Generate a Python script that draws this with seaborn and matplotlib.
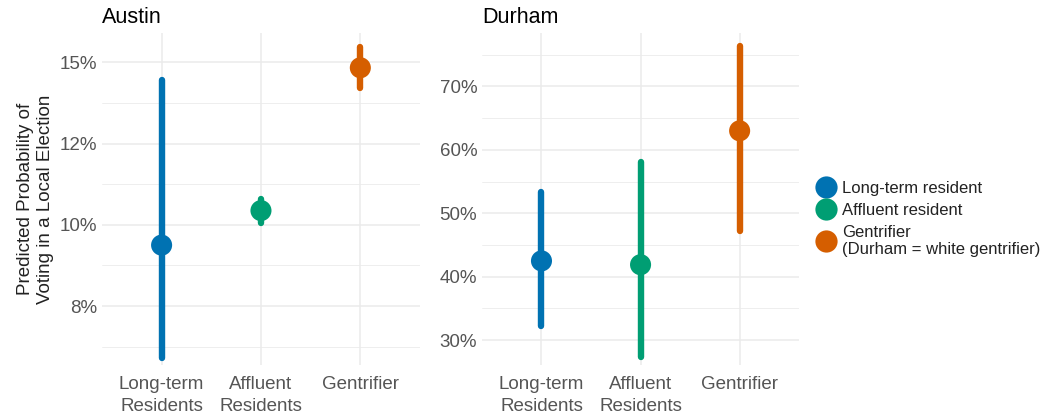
import numpy as np
import pandas as pd
import matplotlib
matplotlib.use("Agg")
import matplotlib.pyplot as plt
import seaborn as sns
from matplotlib.lines import Line2D

# data (percent)
groups = ["Long-term\nResidents", "Affluent\nResidents", "Gentrifier"]
legend_labels = ["Long-term resident", "Affluent resident",
                 "Gentrifier\n(Durham = white gentrifier)"]
colors = ["#0072B2", "#009E73", "#D55E00"]

austin_est = [9.5, 10.35, 14.8]
austin_low = [6.72, 10.04, 14.07]
austin_high = [14.34, 10.63, 15.55]

durham_est = [42.5, 41.9, 63.0]
durham_low = [32.3, 27.3, 47.2]
durham_high = [53.4, 58.1, 76.4]

austin_ticks = [8, 10, 12, 15]
durham_ticks = [30, 40, 50, 60, 70]

sns.set_theme(style="whitegrid")
plt.rcParams["font.family"] = ["Liberation Sans", "DejaVu Sans"]

# Austin axis uses evenly spaced breaks 8/10/12/15 -> piecewise linear scale
K = np.array(austin_ticks, dtype=float)
I = np.arange(len(K), dtype=float)


def fwd(v):
    v = np.asarray(v, dtype=float)
    out = np.interp(v, K, I)
    out = np.where(v < K[0], (v - K[0]) / (K[1] - K[0]), out)
    out = np.where(v > K[-1], I[-1] + (v - K[-1]) / (K[-1] - K[-2]), out)
    return out


def inv(t):
    t = np.asarray(t, dtype=float)
    out = np.interp(t, I, K)
    out = np.where(t < 0, K[0] + t * (K[1] - K[0]), out)
    out = np.where(t > I[-1], K[-1] + (t - I[-1]) * (K[-1] - K[-2]), out)
    return out


fig = plt.figure(figsize=(10.47, 4.19), dpi=100)
ax1 = fig.add_axes([0.0974, 0.129, 0.3037, 0.792])
ax2 = fig.add_axes([0.4604, 0.129, 0.3028, 0.792])

tick_color = "#555555"
grid_color = "#EBEBEB"


def draw_panel(ax, est, low, high, title):
    df = pd.DataFrame({"group": groups, "est": est, "low": low,
                       "high": high, "who": legend_labels})
    lc = ax.vlines(np.arange(len(groups)), df["low"], df["high"],
                   colors=colors, linewidth=4.6, zorder=2)
    lc.set_capstyle("round")
    sns.scatterplot(data=df, x="group", y="est", hue="who",
                    palette=colors, s=230, edgecolor="none",
                    ax=ax, legend=False, zorder=3)
    ax.set_xlim(-0.6, 2.6)
    ax.set_xlabel("")
    ax.set_ylabel("")
    ax.set_title(title, loc="left", fontsize=15.5, color="black", pad=7)
    ax.tick_params(axis="both", labelsize=13.5, colors=tick_color, length=0)
    ax.tick_params(axis="x", pad=8)
    for lab in ax.get_xticklabels():
        lab.set_linespacing(1.35)
    ax.grid(True, which="major", color=grid_color, linewidth=1.1)
    ax.grid(True, which="minor", axis="y", color=grid_color, linewidth=0.6)
    for s in ax.spines.values():
        s.set_visible(False)


draw_panel(ax1, austin_est, austin_low, austin_high, "Austin")
ax1.set_yscale("function", functions=(fwd, inv))
ax1.set_ylim(6.55, 16.08)
ax1.set_yticks(austin_ticks)
ax1.set_yticklabels([f"{t}%" for t in austin_ticks])
ax1.set_yticks([7, 9, 11, 13.5], minor=True)
ax1.set_ylabel("Predicted Probability of\nVoting in a Local Election",
               fontsize=13.5, color="#222222", labelpad=4)

draw_panel(ax2, durham_est, durham_low, durham_high, "Durham")
ax2.set_ylim(26.1, 78.4)
ax2.set_yticks(durham_ticks)
ax2.set_yticklabels([f"{t}%" for t in durham_ticks])
ax2.set_yticks([35, 45, 55, 65, 75], minor=True)

handles = [Line2D([0], [0], marker="o", linestyle="none", markersize=16,
                  markerfacecolor=c, markeredgecolor="none") for c in colors]
fig.legend(handles, legend_labels, loc="center left",
           bbox_to_anchor=(0.765, 0.477), frameon=False, fontsize=12,
           handletextpad=0.35, labelspacing=0.4, handlelength=1.2,
           labelcolor="#222222")

fig.savefig("out.png", dpi=100)
